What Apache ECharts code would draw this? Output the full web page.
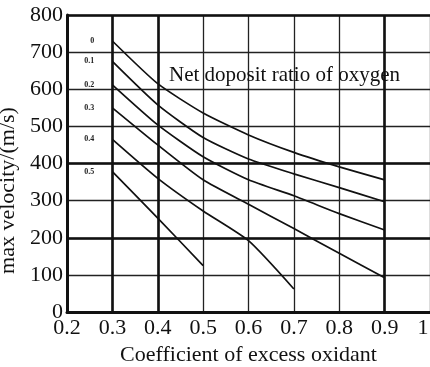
<!DOCTYPE html>
<html>
<head>
<meta charset="utf-8">
<script src="https://cdn.jsdelivr.net/npm/echarts@6/dist/echarts.min.js"></script>
<style>html,body{margin:0;padding:0;background:#fff}#c{width:430px;height:367px}</style>
</head>
<body>
<div id="c"></div>
<script>
var xValues = [0.3, 0.4, 0.5, 0.6, 0.7, 0.8, 0.9];
var curveNames = ['0', '0.1', '0.2', '0.3', '0.4', '0.5'];
var curve0  = [730, 615, 536, 477, 430, 391, 356];
var curve01 = [675, 558, 470, 412, 372, 335, 297];
var curve02 = [612, 504, 418, 356, 313, 265, 221];
var curve03 = [550, 450, 356, 290, 225, 158, 92];
var curve04 = [465, 360, 272, 192, 62];
var curve05 = [378, 253, 125];
var curveValues = [curve0, curve01, curve02, curve03, curve04, curve05];
var thickX = [0.3, 0.4, 0.9];
var thickY = [200, 400, 800];
var titleText = 'Net doposit ratio of oxygen';
var xName = 'Coefficient of excess oxidant';
var yName = 'max velocity/(m/s)';

var FONT = '"Liberation Serif", "Times New Roman", serif';
var chart = echarts.init(document.getElementById('c'));

var series = curveValues.map(function (vals, i) {
  return {
    type: 'line',
    name: curveNames[i],
    smooth: 0.2,
    symbol: 'none',
    lineStyle: { color: '#111', width: 1.7 },
    data: vals.map(function (v, j) {
      var item = { value: [xValues[j], v] };
      if (j === 0) {
        item.label = {
          show: true, position: 'left', distance: 18,
          formatter: curveNames[i],
          fontFamily: FONT, fontSize: 8, fontWeight: 'bold', color: '#222'
        };
        item.symbol = 'circle';
        item.symbolSize = 0.1;
      }
      return item;
    })
  };
});

series.push({
  type: 'line', data: [], silent: true,
  markLine: {
    silent: true, symbol: 'none', label: { show: false },
    lineStyle: { color: '#111', type: 'solid', width: 2.6 },
    data: thickX.map(function (x) { return { xAxis: x }; })
      .concat(thickY.map(function (y) { return { yAxis: y }; }))
  }
});

chart.setOption({
  animation: false,
  backgroundColor: '#fff',
  title: {
    text: titleText, left: 164, top: 60,
    textStyle: { fontFamily: FONT, fontSize: 21, fontWeight: 'normal', color: '#111' }
  },
  grid: { left: 67, right: 0, top: 15, bottom: 55, containLabel: false, outerBoundsMode: 'none' },
  xAxis: {
    type: 'value', min: 0.2, max: 1, interval: 0.1,
    name: xName, nameLocation: 'middle', nameGap: 31,
    nameTextStyle: { fontFamily: FONT, fontSize: 22, color: '#111' },
    axisLine: { show: true, onZero: false, lineStyle: { color: '#111', width: 3 } },
    axisTick: { show: false },
    axisLabel: {
      fontFamily: FONT, fontSize: 22, color: '#111', margin: 5,
      formatter: function (v) {
        var s = String(+v.toFixed(1));
        return v >= 1 ? '{r|' + s + '}' : s;
      },
      rich: { r: { fontFamily: FONT, fontSize: 22, color: '#111', padding: [0, 14, 0, 0] } }
    },
    splitLine: { show: true, lineStyle: { color: '#222', width: 1.3 } }
  },
  yAxis: {
    type: 'value', min: 0, max: 800, interval: 100,
    name: yName, nameLocation: 'middle', nameGap: 44,
    nameTextStyle: { fontFamily: FONT, fontSize: 22, color: '#111', padding: [0, 54, 0, 0] },
    axisLine: { show: true, lineStyle: { color: '#111', width: 3 } },
    axisTick: { show: false },
    axisLabel: { fontFamily: FONT, fontSize: 22, color: '#111', margin: 4 },
    splitLine: { show: true, lineStyle: { color: '#222', width: 1.3 } }
  },
  series: series
});
</script>
</body>
</html>
